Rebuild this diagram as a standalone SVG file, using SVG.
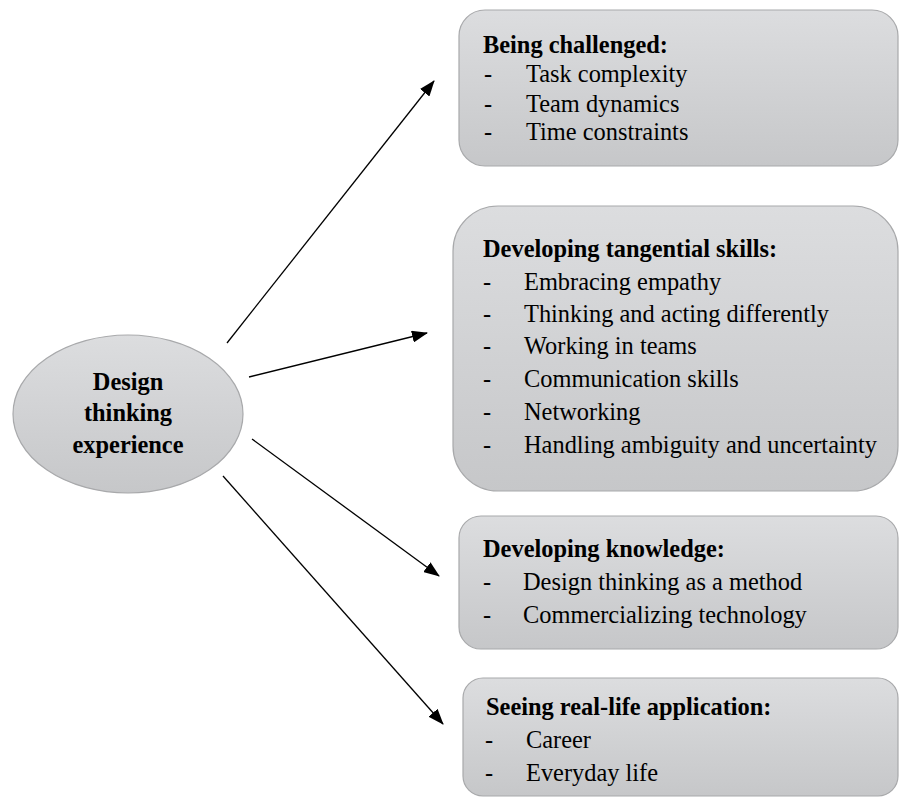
<svg xmlns="http://www.w3.org/2000/svg" width="899" height="797" viewBox="0 0 899 797">
  <defs>
    <linearGradient id="boxFill" x1="0" y1="0" x2="0" y2="1">
      <stop offset="0" stop-color="#dcdddf"/>
      <stop offset="1" stop-color="#c6c7c9"/>
    </linearGradient>
    <marker id="arrowHead" markerWidth="16" markerHeight="12" refX="15" refY="6" orient="auto" markerUnits="userSpaceOnUse">
      <path d="M0,0 L16,6 L0,12 Z" fill="#000"/>
    </marker>
  </defs>
  <style>
    .shape { fill: url(#boxFill); stroke: #a8a9ab; stroke-width: 1.2; }
    .title { font-family: "Liberation Serif", "Times New Roman", serif; font-size: 24.4px; font-weight: bold; fill: #000; }
    .item { font-family: "Liberation Serif", "Times New Roman", serif; font-size: 24.4px; fill: #000; }
    .center { font-family: "Liberation Serif", "Times New Roman", serif; font-size: 24.4px; font-weight: bold; fill: #000; text-anchor: middle; }
    .link { stroke: #000; stroke-width: 1.3; fill: none; marker-end: url(#arrowHead); }
  </style>
  <rect width="899" height="797" fill="#fff"/>

  <!-- connectors from the central ellipse to each theme box -->
  <g id="connectors">
    <line class="link" x1="227" y1="343" x2="434" y2="81"/>
    <line class="link" x1="249" y1="377" x2="427" y2="333"/>
    <line class="link" x1="252" y1="439" x2="439" y2="576"/>
    <line class="link" x1="223" y1="476" x2="443" y2="724"/>
  </g>

  <g id="node-experience">
    <ellipse class="shape" cx="128" cy="414" rx="115" ry="79"/>
    <text class="center" x="128" y="390">Design</text>
    <text class="center" x="128" y="421">thinking</text>
    <text class="center" x="128" y="453">experience</text>
  </g>

  <g id="node-challenged">
    <rect class="shape" x="459" y="10" width="439" height="156" rx="26"/>
    <text class="title" x="483" y="53">Being challenged:</text>
    <text class="item" x="484" y="82">-</text><text class="item" x="526" y="82">Task complexity</text>
    <text class="item" x="484" y="112">-</text><text class="item" x="526" y="112">Team dynamics</text>
    <text class="item" x="484" y="140">-</text><text class="item" x="526" y="140">Time constraints</text>
  </g>

  <g id="node-skills">
    <rect class="shape" x="453" y="206" width="445" height="285" rx="45"/>
    <text class="title" x="483" y="257">Developing tangential skills:</text>
    <text class="item" x="483" y="290">-</text><text class="item" x="524" y="290">Embracing empathy</text>
    <text class="item" x="483" y="322">-</text><text class="item" x="524" y="322">Thinking and acting differently</text>
    <text class="item" x="483" y="354">-</text><text class="item" x="524" y="354">Working in teams</text>
    <text class="item" x="483" y="387">-</text><text class="item" x="524" y="387">Communication skills</text>
    <text class="item" x="483" y="420">-</text><text class="item" x="524" y="420">Networking</text>
    <text class="item" x="483" y="453">-</text><text class="item" x="524" y="453">Handling ambiguity and uncertainty</text>
  </g>

  <g id="node-knowledge">
    <rect class="shape" x="459" y="516" width="439" height="133" rx="22"/>
    <text class="title" x="483" y="557">Developing knowledge:</text>
    <text class="item" x="483" y="590">-</text><text class="item" x="523" y="590">Design thinking as a method</text>
    <text class="item" x="483" y="623">-</text><text class="item" x="523" y="623">Commercializing technology</text>
  </g>

  <g id="node-application">
    <rect class="shape" x="463" y="678" width="435" height="118" rx="20"/>
    <text class="title" x="486" y="715">Seeing real-life application:</text>
    <text class="item" x="485" y="748">-</text><text class="item" x="526" y="748">Career</text>
    <text class="item" x="485" y="781">-</text><text class="item" x="526" y="781">Everyday life</text>
  </g>
</svg>
